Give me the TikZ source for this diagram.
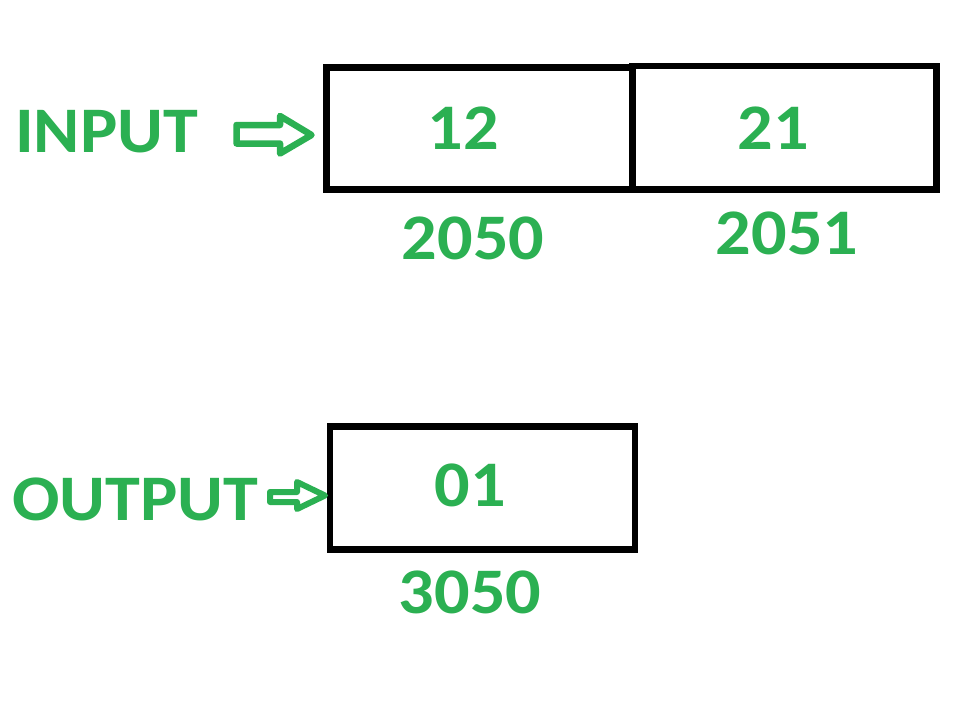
\documentclass[tikz,border=0pt]{standalone}
\usepackage{fontspec}
\setmainfont{Carlito}
\definecolor{gfgGreen}{RGB}{43,176,82}
\newcommand{\wide}[1]{\scalebox{1.08}[1]{#1}}
\begin{document}
\begin{tikzpicture}[x=1pt,y=-1pt,
  cell/.style={draw=black, line width=6.5pt, inner sep=0pt, outer sep=0pt, anchor=north west},
  lbl/.style={text=gfgGreen, font=\fontsize{65}{70}\selectfont\bfseries, inner sep=0pt},
  blockarrow/.style={draw=gfgGreen, line width=6.5pt, line join=round}]
\useasboundingbox (0,0) rectangle (960,720);
\fill[white] (0,0) rectangle (960,720);
% boxes
\node[cell, minimum width=306pt, minimum height=122pt] (b1) at (326.5,67.5) {};
\node[cell, minimum width=304pt, minimum height=123.5pt] (b2) at (632.5,66) {};
\node[cell, minimum width=305pt, minimum height=123pt] (b3) at (330,426.5) {};
% values
\node[lbl] (v1) at (463,128) {\wide{12}};
\node[lbl] (v2) at (773,128) {\wide{21}};
\node[lbl] (v3) at (470,485) {\wide{01}};
% addresses
\node[lbl] (a1) at (473,238) {\wide{2050}};
\node[lbl] (a2) at (787,233) {\wide{2051}};
\node[lbl] (a3) at (470,592) {\wide{3050}};
% labels
\node[lbl, anchor=west] (in) at (15,132) {\wide{INPUT}};
\node[lbl, anchor=west] (out) at (12,499) {\wide{OUTPUT}};
% block arrows
\coordinate (inTip) at (311.5,135);
\coordinate (outTip) at (325,495.5);
\draw[blockarrow] (inTip) -- ++(-31.5,-19) -- ++(0,9) -- ++(-43.5,0) -- ++(0,18.5) -- ++(43.5,0) -- ++(0,10) -- cycle;
\draw[blockarrow, line width=6pt] (outTip) -- ++(-28,-13.5) -- ++(0,10) -- ++(-27,0) -- ++(0,10) -- ++(27,0) -- ++(0,7) -- cycle;
\end{tikzpicture}
\end{document}
